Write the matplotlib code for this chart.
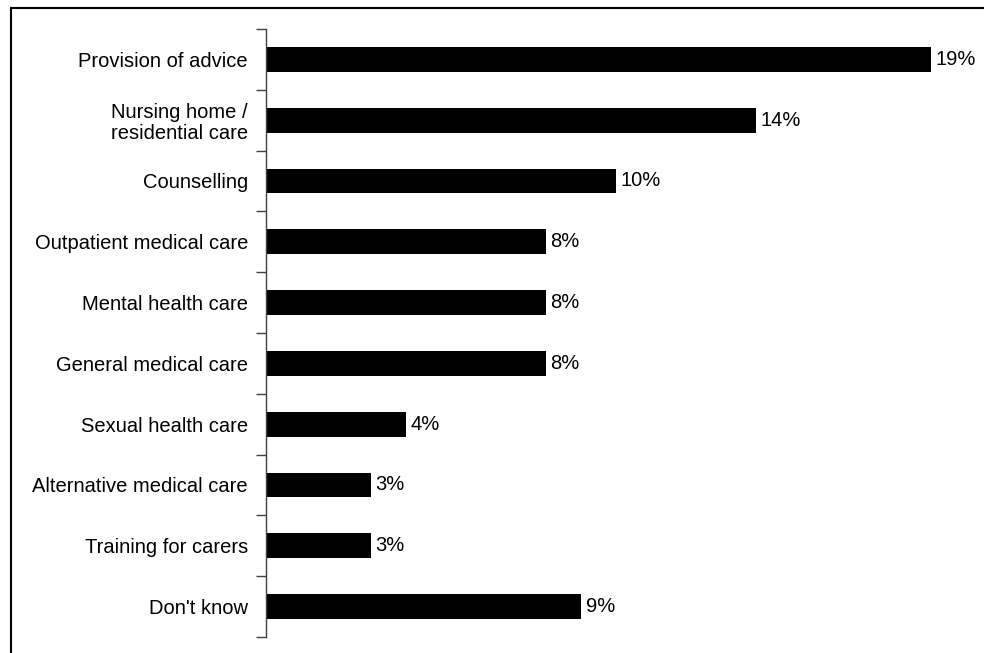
"""Horizontal bar chart of preferred support services."""

import matplotlib.pyplot as plt
from matplotlib.patches import Rectangle
import numpy as np

plt.rcParams['font.family'] = ['Liberation Sans', 'DejaVu Sans']

categories = [
    "Provision of advice",
    "Nursing home /\nresidential care",
    "Counselling",
    "Outpatient medical care",
    "Mental health care",
    "General medical care",
    "Sexual health care",
    "Alternative medical care",
    "Training for carers",
    "Don't know",
]
shares = [19, 14, 10, 8, 8, 8, 4, 3, 3, 9]

W, H = 984, 653
FS = 14.5
fig = plt.figure(figsize=(W / 100, H / 100), dpi=100)
ax = fig.add_axes([266 / W, 1 - 637 / H, 700 / W, 608 / H])

pos = np.arange(len(categories))
ax.barh(pos, shares, height=0.41, color='black')

for y, v in zip(pos, shares):
    ax.text(v + 0.13, y, f"{v}%", va='center', ha='left', fontsize=FS)

ax.set_xlim(0, 20)
ax.set_ylim(len(categories) - 0.5, -0.5)

# category labels sit between the boundary ticks
ax.set_yticks(pos)
ax.set_yticklabels(categories, fontsize=FS, ha='right',
                   multialignment='right', linespacing=1.1)
ax.tick_params(axis='y', which='major', length=0, pad=13)
ax.set_yticks(np.arange(len(categories) + 1) - 0.5, minor=True)
ax.tick_params(axis='y', which='minor', length=7, width=1, color='#404040')

ax.set_xticks([])
for side in ('top', 'right', 'bottom'):
    ax.spines[side].set_visible(False)
ax.spines['left'].set_color('#404040')
ax.spines['left'].set_linewidth(1)

# outer frame, cut off at the right and bottom edges
frame = Rectangle((11 / W, -0.1), 1.0, (H - 8) / H + 0.1,
                  transform=fig.transFigure, fill=False,
                  edgecolor='black', linewidth=1.5, clip_on=False)
fig.patches.append(frame)

fig.savefig('out.png', dpi=100)
